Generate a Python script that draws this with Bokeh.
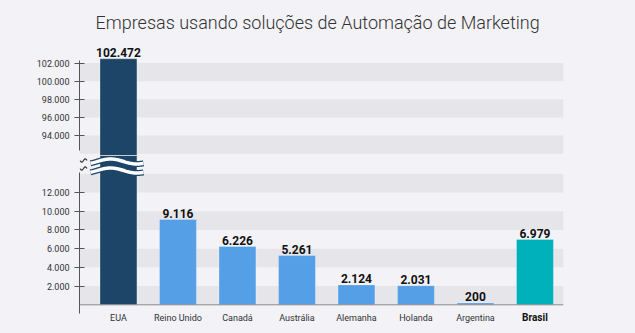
from bokeh.plotting import figure
from bokeh.layouts import column
from bokeh.models import ColumnDataSource, Range1d, FixedTicker, Span, CDSView, BooleanFilter
from bokeh.core.properties import value
from bokeh.embed import file_html
from bokeh.resources import INLINE
import numpy as np

# ---- data ----
categories = ["EUA", "Reino Unido", "Canadá", "Austrália", "Alemanha", "Holanda", "Argentina", "Brasil"]
companies = [102472, 9116, 6226, 5261, 2124, 2031, 200, 6979]
bar_colors = ["#1c4568", "#559fe6", "#559fe6", "#559fe6", "#559fe6", "#559fe6", "#559fe6", "#00b0bb"]
upper_ticks = [94000, 96000, 98000, 100000, 102000]
upper_tick_labels = ["94.000", "96.000", "98.000", "100.000", "102.000"]
lower_ticks = [2000, 4000, 6000, 8000, 10000, 12000]
lower_tick_labels = ["2.000", "4.000", "6.000", "8.000", "10.000", "12.000"]
title_text = "Empresas usando soluções de Automação de Marketing"

BG = "#f2f2f7"
BAND = "#e6e6ea"
AX = "#555555"

# visible value windows of the two panels of the broken axis
UPPER_RANGE = (91797, 104276)
LOWER_RANGE = (-3066, 15951)

xs = [i + 0.5 for i in range(len(categories))]
value_labels = [f"{v:,}".replace(",", ".") for v in companies]
highlight = [c == "Brasil" for c in categories]
src = ColumnDataSource(dict(
    x=xs, top=companies, color=bar_colors, label=value_labels, cat=categories,
    zero=[0] * len(categories),
    cat_style=["bold" if h else "normal" for h in highlight],
    cat_size=["10px" if h else "9px" for h in highlight],
    cat_color=["#111111" if h else "#333333" for h in highlight],
))
in_upper = CDSView(filter=BooleanFilter([UPPER_RANGE[0] < v < UPPER_RANGE[1] for v in companies]))
in_lower = CDSView(filter=BooleanFilter([LOWER_RANGE[0] < v < LOWER_RANGE[1] for v in companies]))

x_range = Range1d(-0.155, 7.98)


def style_y(p, ticks, labels, bounds, grid_ticks):
    ax = p.yaxis[0]
    ax.ticker = FixedTicker(ticks=ticks)
    ax.major_label_overrides = {t: l for t, l in zip(ticks, labels)}
    ax.bounds = bounds
    ax.axis_line_color = AX
    ax.major_tick_line_color = AX
    ax.major_tick_in = 5
    ax.major_tick_out = 5
    ax.minor_tick_line_color = None
    ax.major_label_text_font = "Roboto"
    ax.major_label_text_font_size = "9px"
    ax.major_label_text_color = "#333333"
    ax.major_label_standoff = 5
    p.ygrid.ticker = FixedTicker(ticks=grid_ticks)
    p.ygrid.grid_line_color = None
    p.ygrid.band_fill_color = BAND
    p.ygrid.band_fill_alpha = 1.0
    p.xgrid.grid_line_color = None


def draw_bars(p, view):
    p.vbar(x="x", top="top", bottom=0, width=0.62, source=src,
           fill_color="color", line_color="white", line_alpha=0.25, line_width=1)
    p.text(x="x", y="top", text="label", source=src, view=view, text_align="center",
           text_baseline="alphabetic", y_offset=-6, text_font=value("Roboto"),
           text_font_style="bold", text_font_size="12px", text_color="#111111")


common = dict(width=635, x_range=x_range, output_backend="svg", toolbar_location=None,
              min_border_left=79, min_border_right=72, background_fill_color=BG,
              border_fill_color=BG, outline_line_color=None, x_axis_location=None,
              styles={"background-color": BG})

# upper panel (above the break)
top = figure(height=155, y_range=Range1d(*UPPER_RANGE),
             min_border_top=42, min_border_bottom=0, title=title_text, **common)
top.title.align = "left"
top.title.offset = 16
top.title.text_font = "Roboto Light"
top.title.text_font_style = "normal"
top.title.text_font_size = "18px"
top.title.text_color = "#333333"
top.title.standoff = 19
style_y(top, upper_ticks, upper_tick_labels, (92400, 102250),
        [92000, 94000, 96000, 98000, 100000, 102000])
draw_bars(top, in_upper)

# lower panel (below the break), frame runs to the bottom so category texts fit
bot = figure(height=178, y_range=Range1d(*LOWER_RANGE), min_border_top=0,
             min_border_bottom=0, **common)
style_y(bot, lower_ticks, lower_tick_labels, (-929, 14100),
        [0, 2000, 4000, 6000, 8000, 10000, 12000, 14000])
draw_bars(bot, in_lower)
bot.add_layout(Span(location=0, dimension="width", line_color="#8a8a8a", line_width=1))
bot.text(x="x", y="zero", text="cat", source=src, text_align="center",
         text_baseline="middle", y_offset=13, text_font=value("Roboto"),
         text_font_style="cat_style", text_font_size="cat_size", text_color="cat_color")

# axis-break decoration: wavy cut across the tall bar and two small waves on the axis
theta = np.linspace(-np.pi / 4, 7 * np.pi / 4, 60)
wx = np.linspace(0.03, 0.92, 60)
for yc in (15310, 14348):
    wy = yc + 267 * np.sin(theta)
    bot.line(wx, wy, line_color="#1c4568", line_width=6)
    bot.line(wx, wy, line_color="#ffffff", line_width=3.5)
t_small = np.linspace(0, 2 * np.pi, 20)
tx = np.linspace(-0.146, -0.03, 20)
for yc in (15417, 14562):
    bot.line(tx, yc - 170 * np.sin(t_small), line_color="#333333", line_width=1.2)

layout = column(top, bot, spacing=0, styles={"background-color": BG})
open("out.html", "w").write(file_html(layout, INLINE))
